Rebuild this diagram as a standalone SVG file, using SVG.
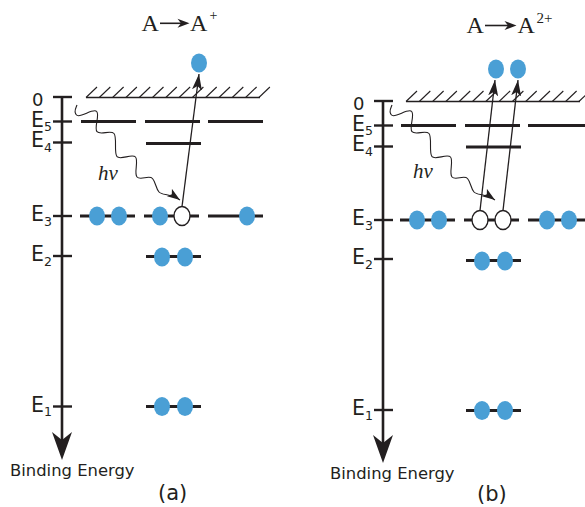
<svg xmlns="http://www.w3.org/2000/svg" width="585" height="507" viewBox="0 0 585 507">
<style>
.ax{stroke:#231f20;stroke-width:2.6;fill:none}
.lv{stroke:#231f20;stroke-width:3}
.tk{stroke:#231f20;stroke-width:2.4}
.hb{stroke:#231f20;stroke-width:1.3}
.h{stroke:#231f20;stroke-width:1.1}
.e{fill:#4a9fd5}
.ho{fill:#fff;stroke:#231f20;stroke-width:1.3}
.ar{stroke:#231f20;stroke-width:1.3;fill:none}
.wv{stroke:#231f20;stroke-width:1.1;fill:none}
.lbl{font-family:"DejaVu Sans",sans-serif;fill:#231f20}
.ser{font-family:"Liberation Serif",serif;fill:#231f20}
.ah{fill:#231f20}
</style>
<defs>
<marker id="tipA" markerUnits="userSpaceOnUse" viewBox="0 0 16 10" refX="16" refY="5" markerWidth="16" markerHeight="10" orient="auto"><path d="M0,0 L16,5 L0,10 L4,5 Z" fill="#231f20"/></marker>
<marker id="tipW" markerUnits="userSpaceOnUse" viewBox="0 0 13 9" refX="13" refY="4.5" markerWidth="13" markerHeight="9" orient="auto"><path d="M0,0 L13,4.5 L0,9 L3,4.5 Z" fill="#231f20"/></marker>
<path id="hatch" d="M0,0 L11,-10.5"/>
<path id="wave" d="M77,105 C76,108 73.2,111.25 76.5,115 C79.8,118.75 93.4,107.75 96.7,111.5 C100,115.25 93.7,127.95 97,131.7 C100.3,135.45 110.7,129.75 114,133.5 C117.3,137.25 113.7,152.95 117,156.7 C120.3,160.45 132.2,153.25 135.5,157 C138.8,160.75 133.7,173.25 137,177 C140.3,180.75 149.2,174.75 152.5,178.5 C155.8,182.25 155.7,188.25 159,192 C162.3,195.75 170,193 180,200"/>
</defs>

<!-- Panel (a) -->
<g id="titleA">
<text class="ser" x="141.5" y="31" font-size="24">A</text>
<line x1="160" y1="23.3" x2="182" y2="23.3" stroke="#231f20" stroke-width="1.6"/>
<path class="ah" d="M189.5,23.3 L177.5,18.8 L181,23.3 L177.5,27.8 Z"/>
<text class="ser" x="190" y="31" font-size="24">A</text>
<text class="ser" x="209.5" y="20" font-size="14">+</text>
</g>
<g id="axisA">
<line class="ax" x1="62" y1="97" x2="62" y2="440"/>
<path class="ah" d="M62,460 L52,432 L62,440 L72,432 Z"/>
<line class="tk" x1="53" y1="97" x2="72" y2="97"/>
<line class="tk" x1="53" y1="121.5" x2="72" y2="121.5"/>
<line class="tk" x1="53" y1="142.5" x2="72" y2="142.5"/>
<line class="tk" x1="53" y1="216" x2="72" y2="216"/>
<line class="tk" x1="53" y1="256" x2="72" y2="256"/>
<line class="tk" x1="53" y1="406.5" x2="72" y2="406.5"/>
<text class="lbl" x="32" y="106" font-size="18">0</text>
<text class="lbl" x="31" y="126.5" font-size="20.5">E<tspan font-size="12.5" dy="4.5">5</tspan></text>
<text class="lbl" x="31" y="147" font-size="20.5">E<tspan font-size="12.5" dy="4.5">4</tspan></text>
<text class="lbl" x="31" y="221" font-size="20.5">E<tspan font-size="12.5" dy="4.5">3</tspan></text>
<text class="lbl" x="31" y="261" font-size="20.5">E<tspan font-size="12.5" dy="4.5">2</tspan></text>
<text class="lbl" x="31" y="411.5" font-size="20.5">E<tspan font-size="12.5" dy="4.5">1</tspan></text>
<text class="lbl" x="10" y="476" font-size="16.4">Binding Energy</text>
<text class="lbl" x="158" y="500" font-size="21">(a)</text>
</g>
<g id="surfaceA">
<line class="hb" x1="86" y1="97.5" x2="260" y2="97.5"/>
<g class="h">
<use href="#hatch" x="86" y="97.5"/><use href="#hatch" x="99.3" y="97.5"/><use href="#hatch" x="112.6" y="97.5"/><use href="#hatch" x="125.9" y="97.5"/><use href="#hatch" x="139.2" y="97.5"/><use href="#hatch" x="152.5" y="97.5"/><use href="#hatch" x="165.8" y="97.5"/><use href="#hatch" x="179.1" y="97.5"/><use href="#hatch" x="192.4" y="97.5"/><use href="#hatch" x="205.7" y="97.5"/><use href="#hatch" x="219" y="97.5"/><use href="#hatch" x="232.3" y="97.5"/><use href="#hatch" x="245.6" y="97.5"/><use href="#hatch" x="258.9" y="97.5"/>
</g>
</g>
<g id="levelsA">
<line class="lv" x1="81" y1="121.5" x2="136" y2="121.5"/>
<line class="lv" x1="145" y1="121.5" x2="200" y2="121.5"/>
<line class="lv" x1="208" y1="121.5" x2="263" y2="121.5"/>
<line class="lv" x1="146" y1="143.5" x2="201" y2="143.5"/>
<line class="lv" x1="80" y1="216" x2="135" y2="216"/>
<line class="lv" x1="144" y1="216" x2="199" y2="216"/>
<line class="lv" x1="208" y1="216" x2="263" y2="216"/>
<line class="lv" x1="146" y1="256.5" x2="201" y2="256.5"/>
<line class="lv" x1="146" y1="406.5" x2="201" y2="406.5"/>
</g>
<g id="electronsA">
<ellipse class="e" cx="97" cy="216" rx="8" ry="9.5"/>
<ellipse class="e" cx="119" cy="216" rx="8" ry="9.5"/>
<ellipse class="e" cx="160" cy="216" rx="8" ry="9.5"/>
<ellipse class="ho" cx="182" cy="216" rx="8" ry="9.5"/>
<ellipse class="e" cx="247" cy="216" rx="8" ry="9.5"/>
<ellipse class="e" cx="162" cy="257" rx="8" ry="9.5"/>
<ellipse class="e" cx="185" cy="257" rx="8" ry="9.5"/>
<ellipse class="e" cx="162" cy="406.5" rx="8" ry="9.5"/>
<ellipse class="e" cx="185" cy="406.5" rx="8" ry="9.5"/>
<ellipse class="e" cx="199" cy="63" rx="8" ry="9.5"/>
</g>
<g id="connectorsA">
<line class="ar" x1="182" y1="206.5" x2="199" y2="74" marker-end="url(#tipA)"/>
<use href="#wave" class="wv" marker-end="url(#tipW)"/>
<text class="ser" x="98" y="180" font-size="21" font-style="italic">hv</text>
</g>

<!-- Panel (b) -->
<g id="titleB">
<text class="ser" x="466.5" y="33" font-size="24">A</text>
<line x1="485" y1="25.5" x2="509" y2="25.5" stroke="#231f20" stroke-width="1.6"/>
<path class="ah" d="M516.5,25.5 L504.5,21 L508,25.5 L504.5,30 Z"/>
<text class="ser" x="517.5" y="33" font-size="24">A</text>
<text class="ser" x="536.5" y="23" font-size="15">2+</text>
</g>
<g id="axisB">
<line class="ax" x1="383" y1="101" x2="383" y2="443"/>
<path class="ah" d="M383,463 L373,435 L383,443 L393,435 Z"/>
<line class="tk" x1="374" y1="101" x2="393" y2="101"/>
<line class="tk" x1="374" y1="125.5" x2="393" y2="125.5"/>
<line class="tk" x1="374" y1="146.5" x2="393" y2="146.5"/>
<line class="tk" x1="374" y1="220" x2="393" y2="220"/>
<line class="tk" x1="374" y1="259" x2="393" y2="259"/>
<line class="tk" x1="374" y1="410" x2="393" y2="410"/>
<text class="lbl" x="353" y="110" font-size="18">0</text>
<text class="lbl" x="352" y="130.5" font-size="20.5">E<tspan font-size="12.5" dy="4.5">5</tspan></text>
<text class="lbl" x="352" y="151" font-size="20.5">E<tspan font-size="12.5" dy="4.5">4</tspan></text>
<text class="lbl" x="352" y="225" font-size="20.5">E<tspan font-size="12.5" dy="4.5">3</tspan></text>
<text class="lbl" x="352" y="264" font-size="20.5">E<tspan font-size="12.5" dy="4.5">2</tspan></text>
<text class="lbl" x="352" y="415" font-size="20.5">E<tspan font-size="12.5" dy="4.5">1</tspan></text>
<text class="lbl" x="330" y="479" font-size="16.4">Binding Energy</text>
<text class="lbl" x="477" y="501" font-size="21">(b)</text>
</g>
<g id="surfaceB">
<line class="hb" x1="406" y1="101.5" x2="580" y2="101.5"/>
<g class="h">
<use href="#hatch" x="406" y="101.5"/><use href="#hatch" x="419.3" y="101.5"/><use href="#hatch" x="432.6" y="101.5"/><use href="#hatch" x="445.9" y="101.5"/><use href="#hatch" x="459.2" y="101.5"/><use href="#hatch" x="472.5" y="101.5"/><use href="#hatch" x="485.8" y="101.5"/><use href="#hatch" x="499.1" y="101.5"/><use href="#hatch" x="512.4" y="101.5"/><use href="#hatch" x="525.7" y="101.5"/><use href="#hatch" x="539" y="101.5"/><use href="#hatch" x="552.3" y="101.5"/><use href="#hatch" x="565.6" y="101.5"/><use href="#hatch" x="578.9" y="101.5"/>
</g>
</g>
<g id="levelsB">
<line class="lv" x1="401" y1="125.5" x2="456" y2="125.5"/>
<line class="lv" x1="465" y1="125.5" x2="520" y2="125.5"/>
<line class="lv" x1="528" y1="125.5" x2="585" y2="125.5"/>
<line class="lv" x1="466" y1="147" x2="521" y2="147"/>
<line class="lv" x1="400" y1="220" x2="455" y2="220"/>
<line class="lv" x1="464" y1="220" x2="519" y2="220"/>
<line class="lv" x1="528" y1="220" x2="585" y2="220"/>
<line class="lv" x1="466" y1="260.5" x2="521" y2="260.5"/>
<line class="lv" x1="466" y1="410.5" x2="521" y2="410.5"/>
</g>
<g id="electronsB">
<ellipse class="e" cx="417" cy="220" rx="8" ry="9.5"/>
<ellipse class="e" cx="439" cy="220" rx="8" ry="9.5"/>
<ellipse class="ho" cx="480" cy="220" rx="8" ry="9.5"/>
<ellipse class="ho" cx="503" cy="220" rx="8" ry="9.5"/>
<ellipse class="e" cx="547" cy="220" rx="8" ry="9.5"/>
<ellipse class="e" cx="569" cy="220" rx="8" ry="9.5"/>
<ellipse class="e" cx="482" cy="261" rx="8" ry="9.5"/>
<ellipse class="e" cx="505" cy="261" rx="8" ry="9.5"/>
<ellipse class="e" cx="482" cy="410.5" rx="8" ry="9.5"/>
<ellipse class="e" cx="505" cy="410.5" rx="8" ry="9.5"/>
<ellipse class="e" cx="496" cy="69" rx="8" ry="9.5"/>
<ellipse class="e" cx="518" cy="69" rx="8" ry="9.5"/>
</g>
<g id="connectorsB">
<line class="ar" x1="480" y1="210.5" x2="495" y2="80" marker-end="url(#tipA)"/>
<line class="ar" x1="503" y1="210.5" x2="518" y2="80" marker-end="url(#tipA)"/>
<use href="#wave" class="wv" transform="translate(315,0)" marker-end="url(#tipW)"/>
<text class="ser" x="413" y="178" font-size="21" font-style="italic">hv</text>
</g>
</svg>
